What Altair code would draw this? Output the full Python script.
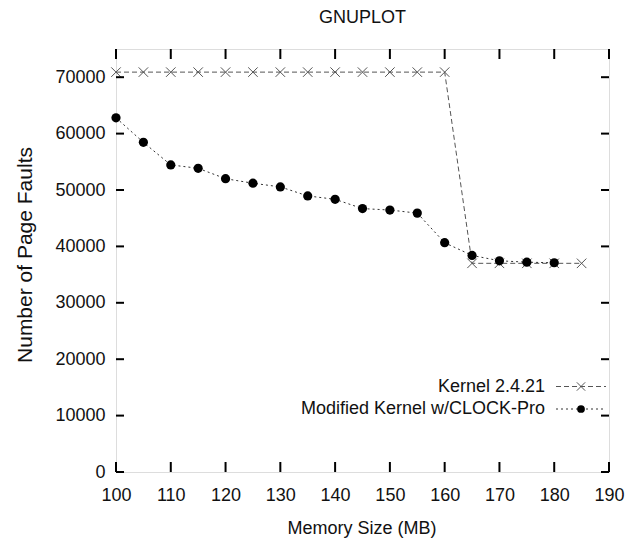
import altair as alt
import pandas as pd

# ---- data ----
kernel_x = [100, 105, 110, 115, 120, 125, 130, 135, 140, 145, 150, 155, 160,
            165, 170, 175, 180, 185]
kernel_y = [70900, 70900, 70900, 70900, 70900, 70900, 70900, 70900, 70900,
            70900, 70900, 70900, 70900, 37000, 37000, 37000, 37000, 37000]

clock_x = [100, 105, 110, 115, 120, 125, 130, 135, 140, 145, 150, 155, 160,
           165, 170, 175, 180]
clock_y = [62800, 58450, 54450, 53850, 52000, 51200, 50550, 48950, 48350,
           46700, 46450, 45900, 40650, 38400, 37450, 37200, 37100]

x_ticks = [100, 110, 120, 130, 140, 150, 160, 170, 180, 190]
y_ticks = [0, 10000, 20000, 30000, 40000, 50000, 60000, 70000]
legend_labels = ["Kernel 2.4.21", "Modified Kernel w/CLOCK-Pro"]
chart_title = ["GNUPLOT"]

FONT = "Liberation Sans"
FS = 18
W, H = 493, 423

kernel_df = pd.DataFrame({"x": kernel_x, "y": kernel_y})
clock_df = pd.DataFrame({"x": clock_x, "y": clock_y})
xt_df = pd.DataFrame({"x": x_ticks})
yt_df = pd.DataFrame({"y": y_ticks})

xscale = alt.Scale(domain=[100, 190], nice=False, zero=False)
yscale = alt.Scale(domain=[0, 75000], nice=False)

xaxis = alt.Axis(values=x_ticks, ticks=False, tickSize=0, domain=False, grid=False,
                 labelFlush=False, labelOverlap=False,
                 labelFont=FONT, labelFontSize=FS, labelColor="#111",
                 labelPadding=14, title="Memory Size (MB)", titleFont=FONT,
                 titleFontSize=FS, titleFontWeight="normal", titleColor="#111",
                 titleX=W / 2 - 1, titleY=56, titleBaseline="middle")
yaxis = alt.Axis(values=y_ticks, ticks=False, tickSize=0, domain=False, grid=False,
                 labelFlush=False, labelOverlap=False,
                 format="d", labelFont=FONT, labelFontSize=FS, labelColor="#111",
                 labelPadding=11, title="Number of Page Faults", titleFont=FONT,
                 titleFontSize=21, titleFontWeight="normal", titleColor="#111",
                 titleX=-91, titleY=H / 2 - 6, titleBaseline="middle")

X = alt.X("x:Q", scale=xscale, axis=xaxis)
Y = alt.Y("y:Q", scale=yscale, axis=yaxis)

kernel_line = alt.Chart(kernel_df).mark_line(
    color="#555", strokeWidth=1, strokeDash=[5, 3]).encode(x=X, y=Y)
kernel_pts = alt.Chart(kernel_df).mark_point(
    shape="M-1,-1L1,1M-1,1L1,-1", size=90, color="#555", strokeWidth=1,
    filled=False, opacity=1).encode(x=X, y=Y)

clock_line = alt.Chart(clock_df).mark_line(
    color="#333", strokeWidth=1, strokeDash=[2, 3]).encode(x=X, y=Y)
clock_pts = alt.Chart(clock_df).mark_point(
    shape="circle", size=85, color="black", filled=True, opacity=1).encode(x=X, y=Y)

# inward ticks on all four sides
tick_bottom = alt.Chart(xt_df).mark_rule(color="black", strokeWidth=2).encode(
    x=X, y=alt.value(H), y2=alt.value(H - 10))
tick_top = alt.Chart(xt_df).mark_rule(color="black", strokeWidth=2).encode(
    x=X, y=alt.value(0), y2=alt.value(10))
tick_left = alt.Chart(yt_df).mark_rule(color="black", strokeWidth=2).encode(
    y=Y, x=alt.value(0), x2=alt.value(8))
tick_right = alt.Chart(yt_df).mark_rule(color="black", strokeWidth=2).encode(
    y=Y, x=alt.value(W), x2=alt.value(W - 8))

# key (gnuplot style: label then sample)
LY1, LY2 = 337.5, 360
TX, S0, S1, SM = 429, 440, 490, 465
k_df = pd.DataFrame({"label": [legend_labels[0]]})
c_df = pd.DataFrame({"label": [legend_labels[1]]})
k_text = alt.Chart(k_df).mark_text(
    align="right", baseline="middle", font=FONT, fontSize=FS, color="#111").encode(
    text="label:N", x=alt.value(TX), y=alt.value(LY1))
k_rule = alt.Chart(k_df).mark_rule(
    color="#555", strokeWidth=1, strokeDash=[5, 3]).encode(
    x=alt.value(S0), x2=alt.value(S1), y=alt.value(LY1))
k_pt = alt.Chart(k_df).mark_point(
    shape="M-1,-1L1,1M-1,1L1,-1", size=70, color="#555", strokeWidth=1,
    filled=False, opacity=1).encode(x=alt.value(SM), y=alt.value(LY1))

c_text = alt.Chart(c_df).mark_text(
    align="right", baseline="middle", font=FONT, fontSize=FS, color="#111").encode(
    text="label:N", x=alt.value(TX), y=alt.value(LY2))
c_rule = alt.Chart(c_df).mark_rule(
    color="#333", strokeWidth=1, strokeDash=[2, 3]).encode(
    x=alt.value(S0), x2=alt.value(S1), y=alt.value(LY2))
c_pt = alt.Chart(c_df).mark_point(
    shape="circle", size=60, color="black", filled=True, opacity=1).encode(
    x=alt.value(SM), y=alt.value(LY2))

# plot title (as a text mark above the frame)
title_mark = alt.Chart(pd.DataFrame({"t": chart_title})).mark_text(
    align="center", baseline="alphabetic", font=FONT, fontSize=FS,
    color="#111").encode(text="t:N", x=alt.value(W / 2), y=alt.value(-26))

chart = alt.layer(
    kernel_line, clock_line, kernel_pts, clock_pts,
    tick_bottom, tick_top, tick_left, tick_right,
    k_text, k_rule, k_pt, c_text, c_rule, c_pt, title_mark,
).properties(
    width=W, height=H,
    autosize=alt.AutoSizeParams(type="none"),
    padding={"left": 108, "top": 41, "right": 16, "bottom": 68},
).configure_view(stroke="black", strokeWidth=2).configure(background="white")

chart.save("out.html", embed_options={"renderer": "svg", "actions": False})
